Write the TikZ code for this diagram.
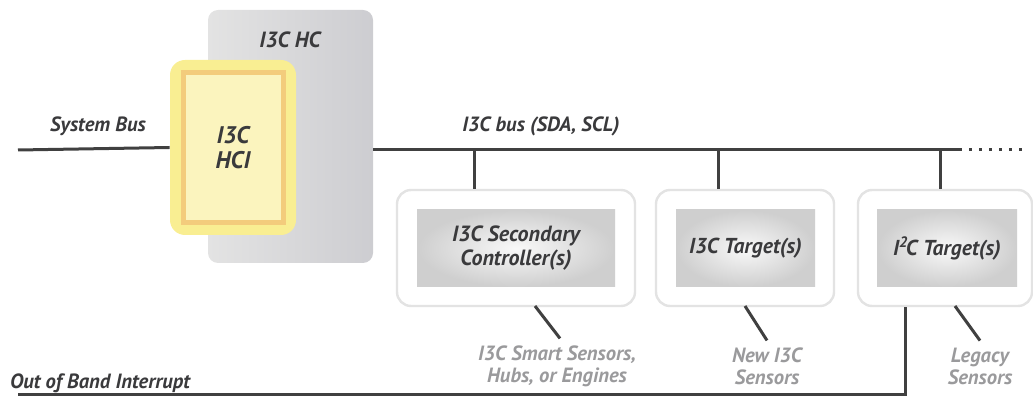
\documentclass[tikz,border=0pt]{standalone}
\usepackage{fontspec}
\setmainfont{PT Sans}
\usepackage{tikz}
\usetikzlibrary{positioning, calc}

\definecolor{wire}{HTML}{404040}
\definecolor{txt}{HTML}{3A3A3C}
\definecolor{soft}{HTML}{9A9A9C}
\definecolor{hcgray}{HTML}{CDCDD1}
\definecolor{hciyel}{HTML}{F9EE92}
\definecolor{hciorg}{HTML}{F3CC7C}
\definecolor{hcifill}{HTML}{FBF4BE}

\begin{document}
\begin{tikzpicture}[x=0.5pt, y=-0.5pt,
    font=\fontsize{10.3}{12}\selectfont\bfseries\itshape,
    bus/.style={draw=wire, line width=1.5pt},
    shell/.style={draw=gray!22, line width=1.2pt, fill=white, rounded corners=7pt, minimum height=58pt},
    core/.style={shading=radial, inner color=gray!5, outer color=gray!38, minimum height=38.5pt, align=center, text=txt},
    note/.style={text=soft, align=center, font=\fontsize{10.3}{11}\selectfont\bfseries\itshape}]
    \useasboundingbox (0,0) rectangle (1033,411);
    % host controller
    \node[rounded corners=5pt, left color=gray!22, right color=hcgray, minimum width=82.5pt, minimum height=126.5pt] (hc) at (290.5,136.5) {};
    \node[text=txt, font=\fontsize{11}{13}\selectfont\bfseries\itshape] (hclbl) at (290,40) {I3C HC};
    \node[rounded corners=7.5pt, fill=hciyel, minimum width=63pt, minimum height=87.5pt] (hci) at (233,147.5) {};
    \node[draw=hciorg, line width=2.5pt, fill=hcifill, minimum width=50pt, minimum height=75pt, align=center, text=txt,
          font=\fontsize{12}{12.5}\selectfont\bfseries\itshape] (hcii) at (233,147.5) {I3C\\HCI};
    % devices
    \node[shell, minimum width=119pt] (sec) at (516,248) {};
    \node[core, minimum width=99pt, font=\fontsize{11}{12}\selectfont\bfseries\itshape] (seci) at (516,248.5) {I3C Secondary\\Controller(s)};
    \node[shell, minimum width=89pt] (tgt) at (745,248) {};
    \node[core, minimum width=69.5pt, font=\fontsize{10.8}{12}\selectfont\bfseries\itshape] (tgti) at (745.5,248.5) {I3C Target(s)};
    \node[shell, minimum width=87pt] (lgc) at (945,248) {};
    \node[core, minimum width=70pt, font=\fontsize{10.8}{12}\selectfont\bfseries\itshape] (lgci) at (947,248.5) {I\textsuperscript{2}\kern-1.2pt C Target(s)};
    % bus lines
    \coordinate (sysl) at (18,150);
    \coordinate (busr) at (962,150);
    \coordinate (dotr) at (1022,150);
    \node[text=txt] (syslbl) at (98,126) {System Bus};
    \node[text=txt] (buslbl) at (541,126) {I3C bus (SDA, SCL)};
    \draw[bus] (sysl) -- (hci.west);
    \draw[bus] (hc.east |- busr) -- (busr);
    \draw[wire, line width=1.5pt, dash pattern=on 1.5pt off 3.5pt] ($(busr)+(7,0)$) -- (dotr);
    \coordinate (tapa) at (474,150);
    \coordinate (tapb) at (718,150);
    \coordinate (tapc) at (940,150);
    \draw[bus] (tapa) -- (tapa |- sec.north);
    \draw[bus] (tapb) -- (tapb |- tgt.north);
    \draw[bus] (tapc) -- (tapc |- lgc.north);
    % sensor notes
    \node[note] (seclbl) at (557,366) {I3C Smart Sensors,\\Hubs, or Engines};
    \node[note] (tgtlbl) at (767,366) {New I3C\\Sensors};
    \node[note] (lgclbl) at (980,366) {Legacy\\Sensors};
    \coordinate (seca) at (535,306);
    \coordinate (tgta) at (745,306);
    \coordinate (lgca) at (955,306);
    \draw[bus] (seca) -- ($(seclbl.north)+(3,0)$);
    \draw[bus] (tgta) -- (tgtlbl.north);
    \draw[bus] (lgca) -- (lgclbl.north);
    % interrupt
    \coordinate (oobl) at (18,394);
    \coordinate (oobr) at (905,394);
    \node[text=txt, anchor=west] (ooblbl) at (3,383) {Out of Band Interrupt};
    \draw[bus] (oobl) -- (oobr) -- (oobr |- lgc.south);
\end{tikzpicture}
\end{document}
